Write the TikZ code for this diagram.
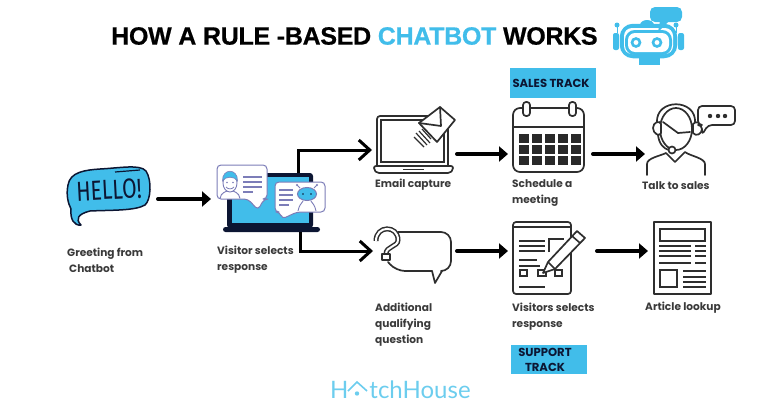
\documentclass[tikz,border=0pt]{standalone}
\usepackage{fontspec}
\setmainfont{Poppins}
\newfontfamily\titlefont[FakeBold=0.6]{Liberation Sans Bold}
\newfontfamily\logofont{Lato}
\newfontfamily\hellofont{Fira Sans}
\usetikzlibrary{arrows.meta}
\definecolor{cy}{HTML}{41BDEA}
\definecolor{logoc}{HTML}{6CCDEE}
\definecolor{ink}{HTML}{2E2E2E}
\definecolor{navy}{HTML}{0C1633}
\definecolor{lav}{HTML}{7C7DB8}
\definecolor{lbl}{HTML}{3A3A3A}
\tikzset{
  anchorbox/.style={anchor=west,inner sep=0pt,outer sep=0pt},
  flow/.style={line width=4pt,line cap=round,-{Triangle[length=9pt,width=15pt]}},
  elbow/.style={line width=3pt,line join=miter,-{Straight Barb[length=11pt,width=20pt,line width=3pt]}},
  lab/.style={anchor=west,align=left,font=\fontsize{10.6}{16}\selectfont\bfseries,text=lbl,inner sep=0pt},
  tag/.style={fill=cy,inner sep=0pt,align=center,font=\fontsize{11.6}{15}\selectfont\bfseries,text=navy},
  ic/.style={draw=ink,line width=1.7pt,line join=round,line cap=round},
  thin/.style={draw=ink,line width=1.6pt,line cap=butt},
}
\begin{document}
\begin{tikzpicture}[x=1pt,y=-1pt]
\useasboundingbox (0,0) rectangle (782,415);
% title
\node[anchor=west,inner sep=0pt] (title) at (111,36) {\titlefont\fontsize{25}{25}\selectfont\addfontfeatures{LetterSpace=-1.2}HOW A RULE -BASED \textcolor{cy}{CHATBOT} WORKS};
% robot
\fill[cy] (647,25) ellipse (7pt and 5pt);
\draw[cy,line width=4.5pt,rounded corners=11pt] (622,26) rectangle (675,56);
\fill[white,rounded corners=8pt] (624,28) rectangle (673,54);
\draw[cy,line width=4pt,rounded corners=8pt] (627,32) rectangle (670,53);
\fill[white,rounded corners=7pt] (628,33) rectangle (669,52);
\fill[cy,rounded corners=2pt] (613,33) rectangle (619,50);
\fill[cy,rounded corners=2pt] (678,33) rectangle (684,50);
\draw[cy,line width=1pt] (617,33) -- (617,25) (676,33) -- (676,25);
\fill[cy] (617,25) circle (2.5pt) (676,25) circle (2.5pt);
\fill[cy] (639,58) rectangle (660,65);
\fill[cy,rounded corners=5pt] (650,7) rectangle (682,22);
\fill[cy] (660,21) -- (669,21) -- (658,32) -- cycle;
\draw[cy,line width=2.6pt] (636,42.5) circle (4pt) (657,42.5) circle (4pt);
% hello
\draw[navy,fill=cy,line width=1.5pt,line join=round] (68,185) .. controls (70,172) and (85,170) .. (100,169) .. controls (120,168) and (140,164) .. (146,171) .. controls (152,180) and (151,200) .. (145,205) .. controls (135,211) and (110,210) .. (90,211) .. controls (78,214) and (75,219) .. (81,225) .. controls (74,226) and (70,219) .. (71,209) .. controls (68,203) and (66,195) .. (68,185) -- cycle;
\draw[navy,line width=1.2pt] (115,172) -- (140,170);
\node[inner sep=0pt,rotate=3,text=navy] (hellotext) at (109,190) {\hellofont\fontsize{24}{24}\selectfont\scalebox{0.88}[1.15]{HELLO!}};
\node[anchorbox,minimum width=91pt,minimum height=58pt] (hello) at (67,199) {};
% visitor laptop
\node[anchorbox,minimum width=105pt,minimum height=66pt] (visitor) at (211,199) {};
\fill[navy,rounded corners=3pt] (227,173) rectangle (313,228);
\fill[cy] (232,177) rectangle (309,223);
\fill[navy,rounded corners=2.5pt] (223,227) rectangle (320,232);
\draw[lav,fill=white,line width=1pt,line join=round,rounded corners=4pt] (217,165) -- (267,165) -- (267,199) -- (264,199) -- (258,210) -- (248,199) -- (217,199) -- cycle;
\draw[lav,fill=white,line width=.9pt] (230,183) ellipse (7pt and 9pt);
\fill[cy,draw=lav,line width=.6pt] (222.5,181) .. controls (222,168) and (238,168) .. (237.5,181) .. controls (235,176) and (225,176) .. (222.5,181) -- cycle;
\draw[lav,line width=.8pt] (226,187) .. controls (228,189.5) and (232,189.5) .. (234,187);
\fill[lav] (227,182.5) circle (.9pt) (233,182.5) circle (.9pt);
\draw[lav,line width=.9pt] (220,198.5) .. controls (221,192) and (226,192) .. (227,191) (233,191) .. controls (234,192) and (239,192) .. (240,198.5);
\draw[lav,line width=1.1pt] (243,177) -- (262,177) (243,182) -- (262,182) (243,187) -- (262,187) (243,192) -- (253,192);
\draw[lav,fill=white,line width=1pt,line join=round,rounded corners=4pt] (275,182) -- (325,182) -- (325,212) -- (297,212) -- (282,219) -- (280,212) -- (275,212) -- cycle;
\draw[lav,line width=1.1pt] (279,190) -- (293,190) (279,195) -- (293,195) (279,200) -- (293,200) (279,205) -- (289,205);
\draw[lav,line width=.9pt] (300,188) -- (297,185) (314,188) -- (317,185);
\fill[lav] (297,185) circle (1.2pt) (317,185) circle (1.2pt);
\draw[lav,fill=cy,line width=1pt] (307,194) ellipse (9.5pt and 6.5pt);
\draw[lav,line width=.9pt] (298,211) .. controls (299,205) and (302,203) .. (303,201) (311,201) .. controls (312,203) and (315,205) .. (316,211);
\fill[navy] (303,194) circle (.9pt) (311,194) circle (.9pt);
% email laptop
\node[anchorbox,minimum width=85pt,minimum height=50pt] (email) at (372,150) {};
\draw[ic,rounded corners=3pt] (377,166) -- (377,116) -- (448,116) -- (448,166);
\draw[thin] (381,120) rectangle (444,162);
\draw[ic,rounded corners=2pt] (374,166) -- (453,166) -- (453,170) -- (450,173) -- (377,173) -- (374,170) -- cycle;
\draw[thin,line width=1.1pt] (403,169.5) -- (424,169.5);
\draw[ic,fill=white] (440,107) -- (455,120) -- (437,142) -- (419,123) -- cycle;
\draw[ic] (419,123) -- (441,126) -- (440,107);
\draw[thin,line width=1.2pt] (416,133) -- (427,145) (419,131) -- (430,143) (414,137) -- (424,147) (422,129) -- (431,139);
% schedule / calendar
\node[anchorbox,minimum width=85pt,minimum height=70pt] (schedule) at (508,154) {};
\draw[ic,rounded corners=7pt] (513,127) -- (513,108) -- (584,108) -- (584,172) -- (513,172) -- cycle;
\draw[thin] (513,127) -- (584,127);
\draw[ic,fill=white,rounded corners=3pt] (523,102) rectangle (530,116);
\draw[ic,fill=white,rounded corners=3pt] (569,102) rectangle (576,116);
\foreach \c in {0,1,2,3,4}\foreach \r in {0,1,2}{
  \fill[ink!90!black] ({519+\c*13},{134+\r*11}) rectangle ({528.5+\c*13},{143+\r*11});
}
% agent
\node[anchorbox,minimum width=60pt,minimum height=60pt] (agent) at (645,154) {};
\draw[ic] (676,129) ellipse (16pt and 21pt);
\draw[ic] (657,123) .. controls (655,98) and (697,98) .. (695,123);
\draw[ic,fill=white] (653,128) .. controls (653,122) and (660,120) .. (661,124) -- (661,133) .. controls (660,137) and (653,134) .. (653,128) -- cycle;
\draw[ic,fill=white] (693,124) .. controls (696,120) and (702,123) .. (702,129) .. controls (702,134) and (696,137) .. (693,133) -- cycle;
\draw[ic] (663,122) -- (678,133) -- (690,132);
\draw[ic] (658,135) .. controls (659,144) and (664,149) .. (669,150);
\draw[ic,fill=white] (672,150) circle (3.5pt);
\draw[ic] (647,175) -- (647,164) .. controls (647,158) and (660,156) .. (666,153) -- (675,162) -- (685,152) .. controls (690,156) and (705,158) .. (705,164) -- (705,175);
\draw[ic,fill=white,rounded corners=4pt] (698,106) -- (735,106) -- (735,125) -- (708,125) -- (702,135) -- (702,125) -- (698,125) -- cycle;
\fill[ink] (710,116) circle (2.2pt) (718,116) circle (2.2pt) (725,116) circle (2.2pt);
% question
\node[anchorbox,minimum width=84pt,minimum height=60pt] (question) at (373,251) {};
\draw[ic,rounded corners=10pt] (398,232) -- (451,232) -- (451,271) -- (442,271);
\draw[ic] (442,271) -- (435,283) -- (432,271);
\draw[ic,rounded corners=9pt] (432,271) -- (396,271) -- (388,262);
\draw[ink,line width=5pt,line cap=butt] (376,241) .. controls (376,225) and (398,225) .. (398,240) .. controls (398,247) and (386,246) .. (386,254);
\draw[white,line width=2pt,line cap=butt] (376,241) .. controls (376,225) and (398,225) .. (398,240) .. controls (398,247) and (386,246) .. (386,254);
\draw[ic,fill=white] (382,254) rectangle (390,260);
% form
\node[anchorbox,minimum width=89pt,minimum height=72pt] (form) at (508,251) {};
\draw[ic,rounded corners=3pt] (513,222) rectangle (571,294);
\draw[thin] (513,227) -- (571,227);
\draw[thin] (519,241) -- (545,241) (519,246) -- (545,246) (519,251) -- (545,251) (519,260) -- (537,260) (519,266) -- (540,266) (519,287) -- (545,287);
\draw[thin] (549,252) -- (549,239) -- (564,239);
\draw[thin] (520,270) rectangle (527,276);
\draw[thin] (538,270) rectangle (546,276);
\draw[thin] (555,270) rectangle (562,276);
\draw[ic,fill=white] (543,273) -- (548,262) -- (577,231) -- (585,238) -- (555,269) -- cycle;
\draw[thin] (572,236) -- (580,243) (548,262) -- (555,269);
% article
\node[anchorbox,minimum width=63pt,minimum height=72pt] (article) at (648,251) {};
\draw[ic] (654,222) rectangle (711,294);
\draw[thin] (660,229) rectangle (705,241);
\draw[thin] (659,246) -- (691,246) (695,246) -- (706,246) (659,251) -- (691,251) (695,251) -- (706,251) (659,256) -- (691,256) (695,256) -- (706,256) (659,263) -- (691,263) (695,263) -- (706,263);
\draw[thin] (660,270) rectangle (677,287);
\draw[thin] (683,271) -- (706,271) (683,277) -- (706,277) (683,282) -- (706,282) (683,287) -- (706,287);
% connectors
\coordinate (vtop) at (298,173);
\coordinate (vbot) at (300,232);
\draw[flow] (hello.east) -- (visitor.west);
\draw[elbow] (vtop) |- (email.west);
\draw[elbow] (vbot) |- (question.west);
\draw[flow] (email.east |- schedule.west) -- (schedule.west);
\draw[flow] (schedule.east) -- (agent.west);
\draw[flow] (question.east) -- (form.west);
\draw[flow] (form.east) -- (article.west);
% labels
\node[lab] (l1) at (67,260) {Greeting from\\\hspace{2pt}Chatbot};
\node[lab] (l2) at (217,260) {Visitor selects\\response};
\node[lab] (l3) at (375,185) {Email capture};
\node[lab] (l4) at (512,193) {Schedule a\\meeting};
\node[lab] (l5) at (642,186) {Talk to sales};
\node[lab] (l6) at (375,325) {Additional\\qualifying\\question};
\node[lab] (l7) at (512,317) {Visitors selects\\response};
\node[lab] (l8) at (645,308) {Article lookup};
\node[tag,minimum width=86pt,minimum height=30pt] (sales) at (553,83) {\hspace{-4pt}SALES TRACK};
\node[tag,minimum width=76pt,minimum height=29pt] (support) at (549,359.5) {\hspace{-8pt}SUPPORT\\\hspace{-8pt}TRACK};
\node[anchor=base west,inner sep=0pt,text=logoc] (logo) at (330,398) {\logofont\fontsize{24}{24}\selectfont H\textcolor{white}{a}\hspace{9pt}tchHouse};
\draw[logoc,line width=1.6pt,line join=miter] (348,391) -- (357,382) -- (367,391);
\fill[logoc] (357,393.5) circle (2.2pt);
\end{tikzpicture}
\end{document}
